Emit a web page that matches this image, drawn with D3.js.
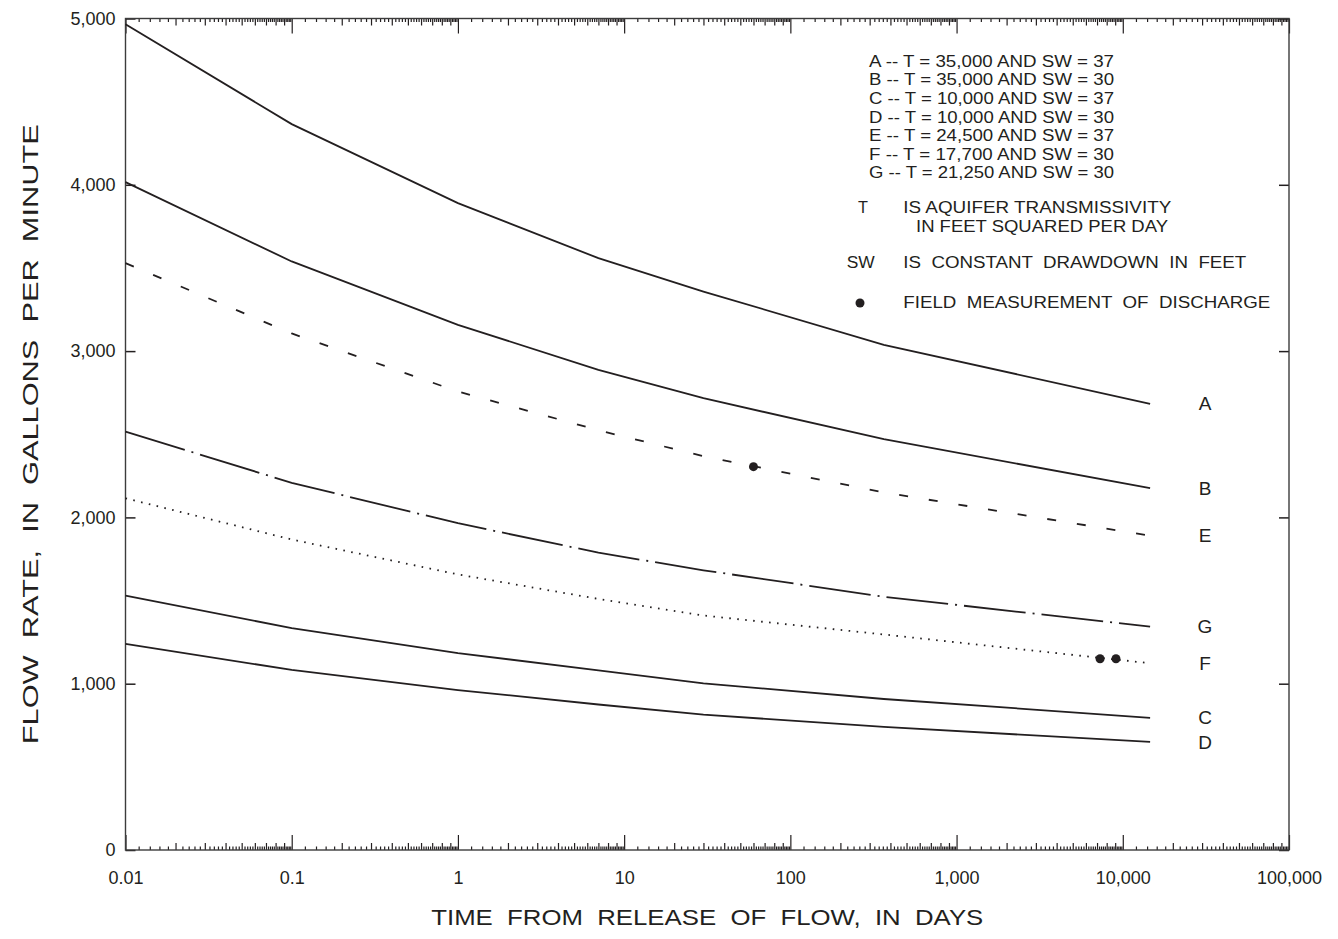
<!DOCTYPE html>
<html>
<head>
<meta charset="utf-8">
<script src="https://cdn.jsdelivr.net/npm/d3@7"></script>
<style>
  body { margin: 0; background: #fff; }
  text { font-family: "Liberation Sans", Arial, Helvetica, sans-serif; fill: #231f20; white-space: pre; }
</style>
</head>
<body>
<svg id="chart" width="1338" height="939"></svg>
<script>
// Times (days) at which the curves were drawn, from 0.01 day out to 40 years.
var times = [0.01, 0.1, 1, 7, 30, 365, 14600];

// Flow rate, gallons per minute for each curve.
var curveA = [4965, 4365, 3890, 3559, 3358, 3038, 2683];
var curveB = [4016, 3539, 3158, 2887, 2717, 2470, 2176];
var curveC = [1530, 1334, 1184, 1080, 1002, 908, 795];
var curveD = [1239, 1083, 962, 875, 814, 740, 650];
var curveE = [3529, 3106, 2757, 2524, 2368, 2150, 1890];
var curveF = [2115, 1867, 1657, 1510, 1410, 1296, 1123];
var curveG = [2516, 2208, 1965, 1788, 1682, 1523, 1343];

var curveNames = ["A", "B", "C", "D", "E", "F", "G"];
var curveValues = [curveA, curveB, curveC, curveD, curveE, curveF, curveG];
// solid, dashed, dash-dot, dotted
var curveStyles = ["solid", "solid", "solid", "solid", "dash", "dot", "dashdot"];

// Field measurements of discharge.
var fieldTimes = [60, 7300, 9100];
var fieldFlows = [2305, 1150, 1150];

// Axis tick labels.
var xTicks = [0.01, 0.1, 1, 10, 100, 1000, 10000, 100000];
var yTicks = [0, 1000, 2000, 3000, 4000, 5000];

var legendLines = [
  "A -- T = 35,000 AND SW = 37",
  "B -- T = 35,000 AND SW = 30",
  "C -- T = 10,000 AND SW = 37",
  "D -- T = 10,000 AND SW = 30",
  "E -- T = 24,500 AND SW = 37",
  "F -- T = 17,700 AND SW = 30",
  "G -- T = 21,250 AND SW = 30"
];

var ink = "#231f20";
// plot edges (note: "top" is a reserved window property, so use other names)
var plotLeft = 125.5, plotRight = 1289, plotTop = 18.5, plotBottom = 850;

var svg = d3.select("#chart");

var x = d3.scaleLog().domain([0.01, 100000]).range([plotLeft, plotRight]);
var y = d3.scaleLinear().domain([0, 5000]).range([plotBottom, plotTop]);

// Minor tick positions: every 0.2 of a unit inside each decade, whole units a bit taller.
var smallTicks = [], unitTicks = [];
for (var e = -2; e < 5; e++) {
  var base = Math.pow(10, e);
  for (var k = 12; k < 100; k += 2) {
    var v = base * k / 10;
    if (k % 10 === 0) unitTicks.push(v);
    else smallTicks.push(v);
  }
}

function tickGroup(axisFn, scale, values, size, transform) {
  var g = svg.append("g")
    .attr("transform", transform)
    .call(axisFn(scale).tickValues(values).tickSize(size).tickFormat(""));
  g.select(".domain").remove();
  g.selectAll(".tick line").attr("stroke", ink).attr("stroke-width", 1.2);
  return g;
}

// bottom and top: ticks pointing inward
tickGroup(d3.axisBottom, x, smallTicks, -3.5, "translate(0," + plotBottom + ")");
tickGroup(d3.axisBottom, x, unitTicks, -7, "translate(0," + plotBottom + ")");
tickGroup(d3.axisTop, x, smallTicks, -3.5, "translate(0," + plotTop + ")");
tickGroup(d3.axisTop, x, unitTicks, -7, "translate(0," + plotTop + ")");
tickGroup(d3.axisTop, x, xTicks, -15, "translate(0," + plotTop + ")");

var xAxis = svg.append("g")
  .attr("transform", "translate(0," + plotBottom + ")")
  .call(d3.axisBottom(x).tickValues(xTicks).tickSize(-15).tickPadding(21)
        .tickFormat(d3.format(",")));
xAxis.select(".domain").remove();
xAxis.selectAll(".tick line").attr("stroke", ink).attr("stroke-width", 1.2);
xAxis.selectAll(".tick text").attr("font-size", 18).attr("fill", ink)
  .attr("font-family", "'Liberation Sans', Arial, sans-serif");

var yAxis = svg.append("g")
  .attr("transform", "translate(" + plotLeft + ",0)")
  .call(d3.axisLeft(y).tickValues(yTicks).tickSize(-10).tickPadding(10)
        .tickFormat(d3.format(",")));
yAxis.select(".domain").remove();
yAxis.selectAll(".tick line").attr("stroke", ink).attr("stroke-width", 1.5);
yAxis.selectAll(".tick text").attr("font-size", 18).attr("fill", ink)
  .attr("font-family", "'Liberation Sans', Arial, sans-serif");

tickGroup(d3.axisRight, y, yTicks, -10, "translate(" + plotRight + ",0)")
  .selectAll(".tick line").attr("stroke-width", 1.5);

// frame
svg.append("rect")
  .attr("x", plotLeft).attr("y", plotTop)
  .attr("width", plotRight - plotLeft).attr("height", plotBottom - plotTop)
  .attr("fill", "none").attr("stroke", "#3c3c3c").attr("stroke-width", 1.4);

// curves
var line = d3.line()
  .x(function(d) { return x(d[0]); })
  .y(function(d) { return y(d[1]); });

var dashFor = { solid: null, dash: "9 21", dot: "1.6 6.4", dashdot: "62 7 2 7" };

curveValues.forEach(function(vals, i) {
  var pts = times.map(function(t, j) { return [t, vals[j]]; });
  svg.append("path")
    .datum(pts)
    .attr("d", line)
    .attr("fill", "none")
    .attr("stroke", ink)
    .attr("stroke-width", 1.8)
    .attr("stroke-dasharray", dashFor[curveStyles[i]]);

  svg.append("text")
    .attr("x", 1205)
    .attr("y", y(vals[vals.length - 1]))
    .attr("dy", "0.35em")
    .attr("text-anchor", "middle")
    .attr("font-size", 19)
    .text(curveNames[i]);
});

// field measurements
svg.selectAll("circle.field")
  .data(fieldTimes)
  .enter()
  .append("circle")
  .attr("class", "field")
  .attr("cx", function(d) { return x(d); })
  .attr("cy", function(d, i) { return y(fieldFlows[i]); })
  .attr("r", 4.5)
  .attr("fill", ink);

// explanation
var legend = svg.append("g").attr("font-size", 16.3);
legend.selectAll("text.key")
  .data(legendLines)
  .enter()
  .append("text")
  .attr("class", "key")
  .attr("x", 869)
  .attr("y", function(d, i) { return 66.7 + i * 18.6; })
  .attr("textLength", 245)
  .attr("lengthAdjust", "spacingAndGlyphs")
  .text(function(d) { return d; });

function note(xp, yp, str, len) {
  var t = legend.append("text").attr("x", xp).attr("y", yp).text(str);
  if (len) t.attr("textLength", len).attr("lengthAdjust", "spacingAndGlyphs");
}
note(858, 212.7, "T");
note(903.3, 212.7, "IS AQUIFER TRANSMISSIVITY", 268);
note(916, 231.7, "IN FEET SQUARED PER DAY", 252);
note(846.7, 268.3, "SW", 28);
note(903.3, 268.3, "IS  CONSTANT  DRAWDOWN  IN  FEET", 343);
note(903.3, 308.3, "FIELD  MEASUREMENT  OF  DISCHARGE", 367);
legend.append("circle").attr("cx", 860).attr("cy", 303).attr("r", 4.5).attr("fill", ink);

// axis titles
svg.append("text")
  .attr("x", (plotLeft + plotRight) / 2)
  .attr("y", 925)
  .attr("text-anchor", "middle")
  .attr("font-size", 22)
  .attr("textLength", 552)
  .attr("lengthAdjust", "spacingAndGlyphs")
  .text("TIME  FROM  RELEASE  OF  FLOW,  IN  DAYS");

svg.append("text")
  .attr("transform", "translate(38," + (plotTop + plotBottom) / 2 + ") rotate(-90)")
  .attr("text-anchor", "middle")
  .attr("font-size", 22)
  .attr("textLength", 620)
  .attr("lengthAdjust", "spacingAndGlyphs")
  .text("FLOW  RATE,  IN  GALLONS  PER  MINUTE");
</script>
</body>
</html>
